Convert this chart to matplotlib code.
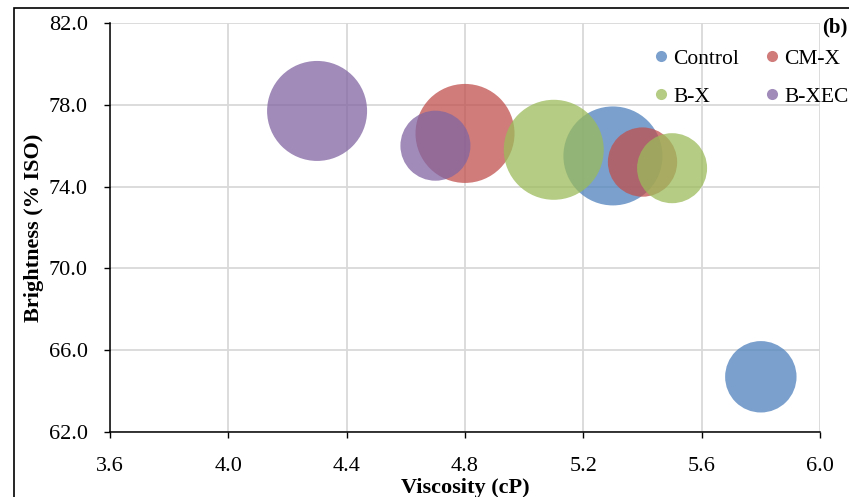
import matplotlib
matplotlib.use("Agg")
import matplotlib.pyplot as plt
from matplotlib.lines import Line2D
from matplotlib.patches import Rectangle

plt.rcParams['font.family'] = ['Liberation Serif', 'DejaVu Serif']

# data: viscosity (cP), brightness (% ISO), relative bubble size
series = ['Control', 'CM-X', 'B-X', 'B-XEC']
visc_control = [5.3, 5.8]
bright_control = [75.5, 64.7]
size_control = [98, 51]

visc_cmx = [4.8, 5.4]
bright_cmx = [76.6, 75.2]
size_cmx = [98, 48]

visc_bx = [5.1, 5.5]
bright_bx = [75.8, 74.9]
size_bx = [100, 49]

visc_bxec = [4.3, 4.7]
bright_bxec = [77.7, 76.0]
size_bxec = [100, 49]

colors = ['#4F81BD', '#C0504D', '#9BBB59', '#8064A2']

xticks = [3.6, 4.0, 4.4, 4.8, 5.2, 5.6, 6.0]
yticks = [62.0, 66.0, 70.0, 74.0, 78.0, 82.0]

fig = plt.figure(figsize=(8.49, 4.97), dpi=100)
ax = fig.add_axes([110/849, 1-432/497, 710/849, 409/497])

data = [(visc_control, bright_control, size_control),
        (visc_cmx, bright_cmx, size_cmx),
        (visc_bx, bright_bx, size_bx),
        (visc_bxec, bright_bxec, size_bxec)]

scale = 51.84  # size 100 -> ~50 px radius
for (x, y, s), c in zip(data, colors):
    ax.scatter(x, y, s=[v*scale for v in s], color=c, alpha=0.75,
               edgecolors='none', zorder=3)

ax.set_xlim(3.6, 6.0)
ax.set_ylim(62, 82)
ax.set_xticks(xticks)
ax.set_yticks(yticks)
ax.set_xticklabels(['%.1f' % v for v in xticks])
ax.set_yticklabels(['%.1f' % v for v in yticks])
ax.grid(True, color='#d9d9d9', lw=1.3, zorder=0)
ax.set_axisbelow(True)

for side in ['top', 'right']:
    ax.spines[side].set_visible(False)
for side in ['left', 'bottom']:
    ax.spines[side].set_linewidth(1.1)
    ax.spines[side].set_zorder(4)

ax.tick_params(direction='out', length=4, width=1.0, labelsize=16, color='black')
ax.tick_params(axis='x', pad=14)
ax.tick_params(axis='y', pad=12)

ax.set_xlabel('Viscosity (cP)', fontsize=16, fontweight='bold')
ax.xaxis.set_label_coords(0.5, -0.137)
ax.xaxis.label.set_va('center')
ax.set_ylabel('Brightness (% ISO)', fontsize=16, fontweight='bold')
ax.yaxis.set_label_coords(-0.107, 0.5)
ax.yaxis.label.set_va('center')

# legend fills column-wise, so order handles to read row-wise
order = [0, 2, 1, 3]
handles = [Line2D([], [], marker='o', ls='none', color=colors[i], alpha=0.75,
                  markeredgecolor='none', markersize=8) for i in order]
ax.legend(handles, [series[i] for i in order], ncol=2, frameon=False,
          fontsize=15.5, loc='upper right', bbox_to_anchor=(1.068, 0.985),
          labelspacing=0.85, columnspacing=1.0, handletextpad=0.1,
          handlelength=1.0)

fig.text(835/849, 1-27/497, '(b)', fontsize=15, fontweight='bold',
         ha='center', va='center')

fig.add_artist(Rectangle((14/849, -0.2), 1.2, 1.2 - 8/497,
                         transform=fig.transFigure, fill=False,
                         edgecolor='black', lw=1.2, clip_on=False))

fig.savefig('out.png', dpi=100)
